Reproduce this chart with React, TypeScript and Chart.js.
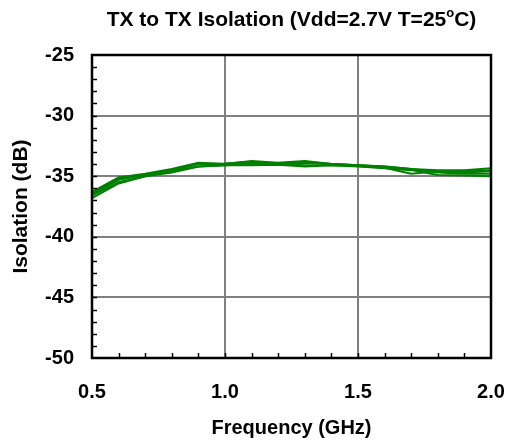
import React, { useEffect, useRef } from "react";
import { Chart, registerables } from "chart.js";

Chart.register(...registerables);

const freqs = [0.5, 0.6, 0.7, 0.8, 0.9, 1.0, 1.1, 1.2, 1.3, 1.4, 1.5, 1.6, 1.7, 1.8, 1.9, 2.0];
const s1 = [-36.3, -35.1, -34.8, -34.4, -33.9, -34.0, -33.75, -33.9, -33.75, -34.0, -34.1, -34.2, -34.4, -34.5, -34.5, -34.35];
const s2 = [-36.5, -35.3, -34.9, -34.5, -34.0, -34.0, -33.9, -34.0, -33.9, -34.0, -34.1, -34.25, -34.45, -34.6, -34.6, -34.5];
const s3 = [-36.6, -35.5, -35.0, -34.6, -34.2, -34.1, -34.0, -34.0, -34.1, -34.1, -34.15, -34.3, -34.8, -34.6, -34.7, -34.6];
const s4 = [-36.8, -35.6, -35.0, -34.7, -34.2, -34.1, -34.1, -34.05, -34.2, -34.1, -34.2, -34.35, -34.5, -34.9, -34.95, -35.0];
const s5 = [-36.4, -35.2, -34.85, -34.5, -34.0, -33.95, -33.8, -33.95, -33.8, -34.0, -34.1, -34.2, -34.4, -34.7, -34.8, -34.8];
const seriesList = [s1, s2, s3, s4, s5];

const xMin = 0.5, xMax = 2.0, xStep = 0.5, xMinor = 0.1;
const yMin = -50, yMax = -25, yStep = 5, yMinor = 1;

const titleMain = "TX to TX Isolation (Vdd=2.7V T=25";
const titleSup = "o";
const titleEnd = "C)";
const xTitle = "Frequency (GHz)";
const yTitle = "Isolation (dB)";

const FONT = "'Liberation Sans', Arial, sans-serif";

const framePlugin = {
  id: "frame",
  afterDatasetsDraw(chart: any) {
    const { ctx, chartArea } = chart;
    const xs = chart.scales.x;
    const ys = chart.scales.y;
    ctx.save();
    ctx.strokeStyle = "#000";
    ctx.lineWidth = 1.5;
    const nx = Math.round((xMax - xMin) / xMinor);
    for (let i = 1; i < nx; i++) {
      const px = Math.round(xs.getPixelForValue(xMin + i * xMinor)) + 0.5;
      ctx.beginPath();
      ctx.moveTo(px, chartArea.bottom);
      ctx.lineTo(px, chartArea.bottom - 5);
      ctx.stroke();
    }
    const ny = Math.round((yMax - yMin) / yMinor);
    for (let i = 1; i < ny; i++) {
      const py = Math.round(ys.getPixelForValue(yMin + i * yMinor)) + 0.5;
      ctx.beginPath();
      ctx.moveTo(chartArea.left, py);
      ctx.lineTo(chartArea.left + 5, py);
      ctx.stroke();
    }
    ctx.lineWidth = 2.5;
    ctx.strokeRect(chartArea.left, chartArea.top, chartArea.right - chartArea.left, chartArea.bottom - chartArea.top);
    ctx.restore();
  },
};

const titlePlugin = {
  id: "suptitle",
  afterDraw(chart: any) {
    const { ctx, chartArea } = chart;
    ctx.save();
    ctx.fillStyle = "#000";
    ctx.textBaseline = "middle";
    ctx.textAlign = "left";
    const big = "bold 21px " + FONT;
    const small = "bold 13px " + FONT;
    ctx.font = big;
    const w1 = ctx.measureText(titleMain).width;
    const w3 = ctx.measureText(titleEnd).width;
    ctx.font = small;
    const w2 = ctx.measureText(titleSup).width;
    const total = w1 + w2 + w3;
    const cx = (chartArea.left + chartArea.right) / 2;
    const cy = 20;
    let x = cx - total / 2;
    ctx.font = big;
    ctx.fillText(titleMain, x, cy);
    x += w1;
    ctx.font = small;
    ctx.fillText(titleSup, x, cy - 7);
    x += w2;
    ctx.font = big;
    ctx.fillText(titleEnd, x, cy);
    ctx.restore();
  },
};

export default function App() {
  const ref = useRef<HTMLCanvasElement>(null);
  useEffect(() => {
    document.body.style.margin = "0";
    if (!ref.current) return;
    const chart = new Chart(ref.current, {
      type: "line",
      data: {
        datasets: seriesList.map((s, k) => ({
          label: "S" + (k + 1),
          data: freqs.map((f, i) => ({ x: f, y: s[i] })),
          borderColor: "#008000",
          backgroundColor: "#008000",
          borderWidth: 2,
          pointRadius: 0,
          tension: 0,
          fill: false,
        })),
      },
      options: {
        animation: false,
        responsive: false,
        events: [],
        layout: { padding: { top: 55, right: 0, left: 0, bottom: 0 } },
        plugins: { legend: { display: false }, title: { display: false }, tooltip: { enabled: false } },
        scales: {
          x: {
            type: "linear",
            min: xMin,
            max: xMax,
            afterFit: (s: any) => { s.height = 88; s.paddingRight = 16; s.paddingLeft = 0; },
            ticks: {
              stepSize: xStep,
              padding: 22,
              color: "#000",
              font: { family: FONT, size: 20, weight: "bold" },
              callback: (v: any) => Number(v).toFixed(1),
            },
            grid: { color: "#808080", lineWidth: 2, drawTicks: false },
            border: { display: false },
            title: {
              display: true,
              text: xTitle,
              color: "#000",
              font: { family: FONT, size: 20, weight: "bold" },
              padding: { top: 0, bottom: 6 },
            },
          },
          y: {
            type: "linear",
            min: yMin,
            max: yMax,
            afterFit: (s: any) => { s.width = 92; },
            ticks: {
              stepSize: yStep,
              padding: 18,
              color: "#000",
              font: { family: FONT, size: 20, weight: "bold" },
            },
            grid: { color: "#808080", lineWidth: 2, drawTicks: false },
            border: { display: false },
            title: {
              display: true,
              text: yTitle,
              color: "#000",
              font: { family: FONT, size: 21, weight: "bold" },
              padding: { top: 9, bottom: 0 },
            },
          },
        },
      },
      plugins: [framePlugin, titlePlugin],
    });
    return () => chart.destroy();
  }, []);
  return <canvas ref={ref} width={507} height={446} style={{ display: "block" }} />;
}
